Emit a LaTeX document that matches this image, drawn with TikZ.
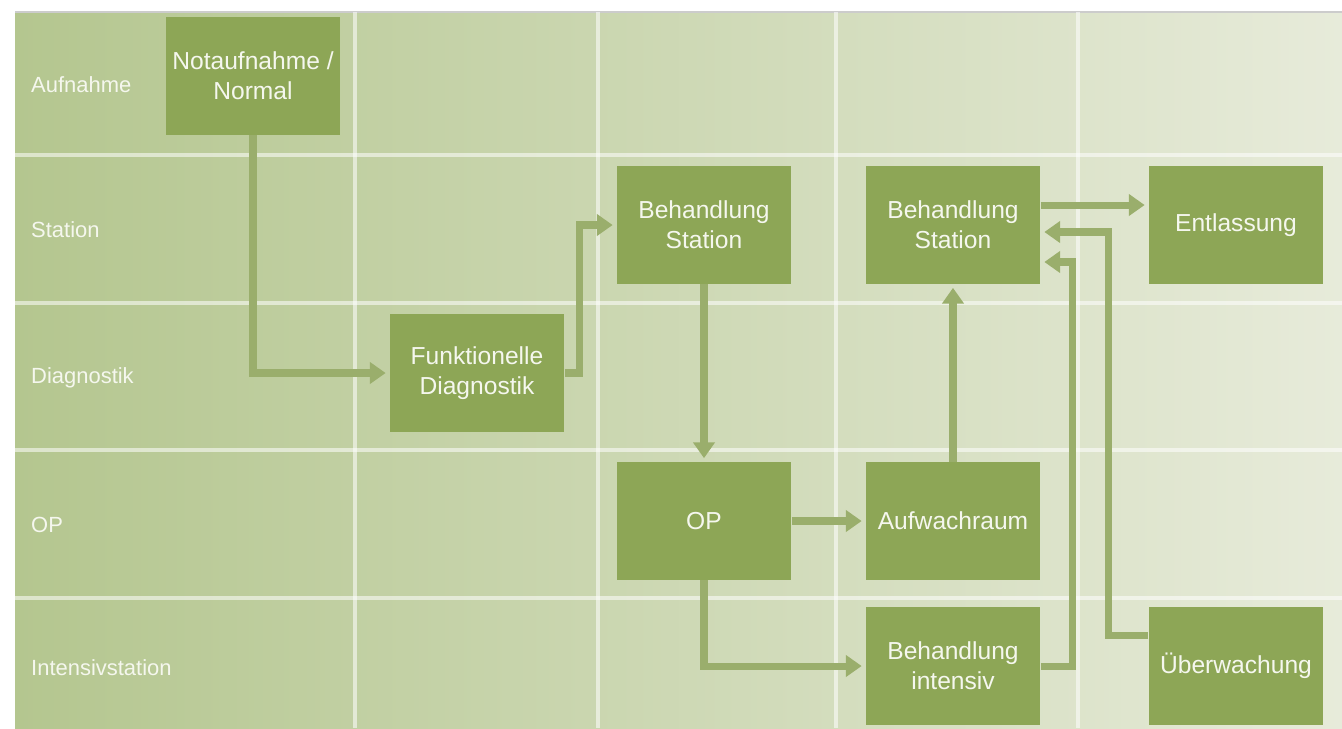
\documentclass[tikz,border=0pt]{standalone}
\usepackage{fontspec}
\setmainfont{Liberation Sans}
\definecolor{KHbox}{HTML}{8DA656}
\definecolor{KHarrow}{HTML}{9AAE6C}
\definecolor{KHbgleft}{HTML}{B4C68F}
\definecolor{KHbgright}{HTML}{E7EBDA}
\definecolor{KHtext}{HTML}{F5F7EE}
\usepackage{tikz}
\usetikzlibrary{arrows.meta,calc,positioning}

\begin{document}
\begin{tikzpicture}[x=0.02cm,y=-0.02cm,>={Triangle[length=9pt,width=12pt]},
    box/.style={fill=KHbox,text=KHtext,minimum width=3.5cm,minimum height=2.36cm,
      inner sep=0pt,align=center,font=\fontsize{14}{17}\selectfont},
    lane/.style={anchor=west,text=KHtext,font=\fontsize{12.5}{15}\selectfont},
    gridline/.style={white,opacity=0.55,line width=1.8pt},
    flow/.style={->,draw=KHarrow,line width=4pt,shorten >=2pt}]
  \useasboundingbox (0,0) rectangle (1342,728);
  \shade[left color=KHbgleft,right color=KHbgright] (15,12) rectangle (1342,728);
  \draw[gray!40,line width=1pt] (15,12) -- (1342,12);
  \foreach \x in {355,598,836,1078}
    \draw[gridline] (\x,12) -- (\x,728);
  \foreach \y in {155,303,450,598}
    \draw[gridline] (15,\y) -- (1342,\y);
  % lanes
  \node[lane] (lAuf) at (25,85) {Aufnahme};
  \node[lane] (lSta) at (25,230) {Station};
  \node[lane] (lDia) at (25,378) {Diagnostik};
  \node[lane] (lOP) at (25,525) {OP};
  \node[lane] (lInt) at (25,668) {Intensivstation};
  % boxes
  \node[box] (nota) at (253,76) {Notaufnahme /\\Normal};
  \node[box] (funk) at (477,373) {Funktionelle\\Diagnostik};
  \node[box] (stationA) at (704,225) {Behandlung\\Station};
  \node[box] (stationB) at (953,225) {Behandlung\\Station};
  \node[box] (entl) at (1236,225) {Entlassung};
  \node[box] (op) at (704,521) {OP};
  \node[box] (aufw) at (953,521) {Aufwachraum};
  \node[box] (intens) at (953,666) {Behandlung\\intensiv};
  \node[box] (ueberw) at (1236,666) {Überwachung};
  % flows
  \draw[flow] (nota.south) |- (funk.west);
  \draw[flow] (funk.east) -- ++(15,0) |- (stationA.west);
  \draw[flow] (stationA) -- (op);
  \draw[flow] (op) -- (aufw);
  \draw[flow] (op.south) |- (intens.west);
  \draw[flow] (aufw) -- (stationB);
  \draw[flow] ([yshift=0.4cm]stationB.east) -- ([yshift=0.4cm]entl.west);
  \draw[flow] (intens.east) -- ++(32,0) |- ([yshift=-0.74cm]stationB.east);
  \draw[flow] ([yshift=0.62cm]ueberw.west) -- ++(-40,0) |- ([yshift=-0.14cm]stationB.east);
\end{tikzpicture}
\end{document}
